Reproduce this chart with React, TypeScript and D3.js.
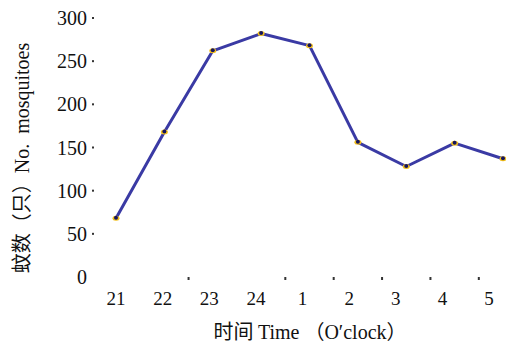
import { useEffect, useRef } from 'react';
import * as d3 from 'd3';

const hours = ['21', '22', '23', '24', '1', '2', '3', '4', '5'];
const mosquitoes = [68, 168, 262, 282, 268, 156, 128, 155, 137];
const yTicks = [0, 50, 100, 150, 200, 250, 300];
// small dots on the baseline, half a step left of these hours
const dotHours = ['23', '1', '2', '3', '4', '5'];

export default function App() {
  const svgRef = useRef<SVGSVGElement>(null);

  useEffect(() => {
    if (!svgRef.current) return;
    const width = 506;
    const height = 347;
    const svg = d3.select(svgRef.current);
    svg.selectAll('*').remove();

    const x = d3.scalePoint<string>().domain(hours).range([116, 503]);
    const xLabel = d3.scalePoint<string>().domain(hours).range([116, 489]);
    const y = d3.scaleLinear().domain([0, 300]).range([277, 18]);

    const serif = '"Liberation Serif", "DejaVu Serif", serif';
    const cjk = '"Noto Sans CJK SC", sans-serif';

    // y ticks: labels with a dot on the right
    const yg = svg.append('g');
    yg.selectAll('text')
      .data(yTicks)
      .enter()
      .append('text')
      .attr('x', 87)
      .attr('y', (d) => y(d))
      .attr('dy', '0.35em')
      .attr('text-anchor', 'end')
      .attr('font-family', serif)
      .attr('font-size', 20)
      .attr('fill', '#111')
      .text((d) => d);
    yg.selectAll('rect')
      .data(yTicks.filter((d) => d > 0))
      .enter()
      .append('rect')
      .attr('x', 92)
      .attr('y', (d) => y(d) - 1)
      .attr('width', 2)
      .attr('height', 2)
      .attr('fill', '#333');

    // x tick dots
    const step = x.step();
    svg.append('g')
      .selectAll('rect')
      .data(dotHours)
      .enter()
      .append('rect')
      .attr('x', (d) => (x(d) as number) - step / 2 - 1)
      .attr('y', 277)
      .attr('width', 2)
      .attr('height', 3)
      .attr('fill', '#333');

    // x labels
    svg.append('g')
      .selectAll('text')
      .data(hours)
      .enter()
      .append('text')
      .attr('x', (d) => xLabel(d) as number)
      .attr('y', 305)
      .attr('text-anchor', 'middle')
      .attr('font-family', serif)
      .attr('font-size', 19)
      .attr('fill', '#111')
      .text((d) => d);

    // line
    const line = d3
      .line<number>()
      .x((_, i) => x(hours[i]) as number)
      .y((d) => y(d));
    svg.append('path')
      .datum(mosquitoes)
      .attr('d', line)
      .attr('fill', 'none')
      .attr('stroke', '#3a3aa4')
      .attr('stroke-width', 3)
      .attr('stroke-linejoin', 'round');

    // markers
    const m = svg.append('g');
    m.selectAll('ellipse')
      .data(mosquitoes)
      .enter()
      .append('ellipse')
      .attr('cx', (_, i) => x(hours[i]) as number)
      .attr('cy', (d) => y(d))
      .attr('rx', 3.5)
      .attr('ry', 2.5)
      .attr('fill', '#f2bf1a');
    m.selectAll('circle')
      .data(mosquitoes)
      .enter()
      .append('circle')
      .attr('cx', (_, i) => x(hours[i]) as number)
      .attr('cy', (d) => y(d) - 0.5)
      .attr('r', 2)
      .attr('fill', '#151560');

    // axis titles
    const xt = svg.append('text')
      .attr('x', 310)
      .attr('y', 339)
      .attr('text-anchor', 'middle')
      .attr('font-size', 20)
      .attr('fill', '#111');
    xt.append('tspan').attr('font-family', cjk).text('时间\u00a0');
    xt.append('tspan').attr('font-family', serif).text('Time\u00a0');
    xt.append('tspan').attr('font-family', cjk).text('（');
    xt.append('tspan').attr('font-family', serif).text('O′clock');
    xt.append('tspan').attr('font-family', cjk).text('）');

    const yt = svg.append('text')
      .attr('transform', `translate(29,158) rotate(-90)`)
      .attr('text-anchor', 'middle')
      .attr('font-size', 20)
      .attr('fill', '#111');
    yt.append('tspan').attr('font-family', cjk).text('蚊数（只）');
    yt.append('tspan').attr('font-family', serif).text('No.\u00a0\u00a0mosquitoes');

    svg.attr('width', width).attr('height', height);
  }, []);

  return (
    <svg
      ref={svgRef}
      width={506}
      height={347}
      style={{ position: 'absolute', left: 0, top: 0, background: '#fff' }}
    />
  );
}
